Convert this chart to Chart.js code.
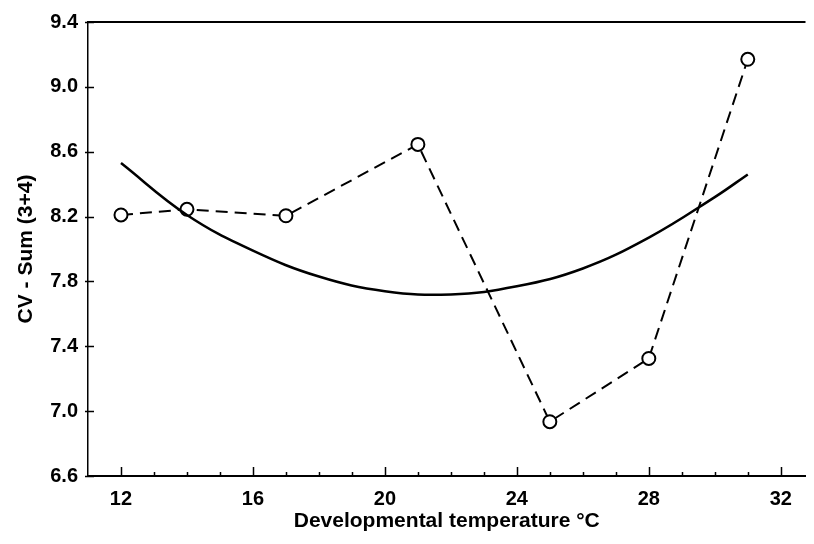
<!DOCTYPE html>
<html>
<head>
<meta charset="utf-8">
<script src="https://cdn.jsdelivr.net/npm/chart.js@4"></script>
<style>
  html, body { margin: 0; padding: 0; background: #fff; }
  #wrap { width: 814px; height: 544px; }
</style>
</head>
<body>
<div id="wrap"><canvas id="cvChart" width="814" height="544"></canvas></div>
<script>
// measured points (dashed line with open circles)
const tempX = [12, 14, 17, 21, 25, 28, 31];
const cvSum = [8.21, 8.245, 8.205, 8.645, 6.935, 7.325, 9.17];

// fitted curve
const fitX = [12, 14, 16, 18, 20, 22, 24, 26, 28, 30, 31];
const fitY = [8.53, 8.21, 7.99, 7.83, 7.74, 7.72, 7.77, 7.88, 8.07, 8.32, 8.46];

// axis ticks
const xTicks = [12, 16, 20, 24, 28, 32];
const xMinor = [12, 13, 14, 15, 16, 17, 18, 19, 20, 21, 22, 23, 24, 25, 26, 27, 28, 29, 30, 31, 32];
const yTicks = [6.6, 7.0, 7.4, 7.8, 8.2, 8.6, 9.0, 9.4];

const FONT = "'Liberation Sans', Arial, Helvetica, sans-serif";

// inward tick marks and the top frame line
const frameTicks = {
    id: "frameTicks",
    afterDraw(chart) {
        const ctx = chart.ctx;
        const area = chart.chartArea;
        const xs = chart.scales.x;
        const ys = chart.scales.y;
        ctx.save();
        ctx.strokeStyle = "#000";
        ctx.lineWidth = 2;
        ctx.beginPath();
        ctx.moveTo(area.left, area.top);
        ctx.lineTo(area.right, area.top);
        ctx.stroke();

        ctx.lineWidth = 1.5;
        ctx.beginPath();
        xMinor.forEach((v) => {
            const px = Math.round(xs.getPixelForValue(v)) + 0.5;
            const len = xTicks.includes(v) ? 9 : 4;
            ctx.moveTo(px, area.bottom);
            ctx.lineTo(px, area.bottom - len);
        });
        yTicks.forEach((v) => {
            const py = Math.round(ys.getPixelForValue(v)) + 0.5;
            ctx.moveTo(area.left - 3, py);
            ctx.lineTo(area.left + 6, py);
        });
        ctx.stroke();
        ctx.restore();
    },
};

const ctx = document.getElementById("cvChart").getContext("2d");

new Chart(ctx, {
    type: "scatter",
    data: {
        datasets: [
            {
                label: "Fit",
                data: fitX.map((x, i) => ({ x: x, y: fitY[i] })),
                showLine: true,
                borderColor: "#000",
                borderWidth: 2.5,
                pointRadius: 0,
                tension: 0.4,
                order: 0,
            },
            {
                label: "CV - Sum (3+4)",
                data: tempX.map((x, i) => ({ x: x, y: cvSum[i] })),
                showLine: true,
                borderColor: "#000",
                borderWidth: 2,
                borderDash: [12, 7],
                pointRadius: 6.5,
                pointBackgroundColor: "#fff",
                pointBorderColor: "#000",
                pointBorderWidth: 2,
                tension: 0,
                order: 1,
            },
        ],
    },
    options: {
        responsive: false,
        animation: false,
        devicePixelRatio: 1,
        layout: { padding: { top: 19, right: 0, left: 0, bottom: 0 } },
        plugins: {
            legend: { display: false },
            tooltip: { enabled: false },
        },
        scales: {
            x: {
                type: "linear",
                min: 11,
                max: 32.75,
                afterBuildTicks: (scale) => {
                    scale.ticks = xTicks.map((v) => ({ value: v }));
                },
                afterFit: (scale) => {
                    scale.height = 68;
                },
                grid: { display: false, drawTicks: false },
                border: { display: true, color: "#000", width: 2 },
                ticks: {
                    color: "#000",
                    padding: 11,
                    maxRotation: 0,
                    font: { family: FONT, size: 20, weight: "bold" },
                },
                title: {
                    display: true,
                    text: "Developmental temperature °C",
                    color: "#000",
                    padding: { top: 0, bottom: 10 },
                    font: { family: FONT, size: 21, weight: "bold" },
                },
            },
            y: {
                type: "linear",
                min: 6.6,
                max: 9.4,
                afterBuildTicks: (scale) => {
                    scale.ticks = yTicks.map((v) => ({ value: v }));
                },
                afterFit: (scale) => {
                    scale.width = 88;
                },
                grid: { display: false, drawTicks: false },
                border: { display: true, color: "#000", width: 1.5 },
                ticks: {
                    color: "#000",
                    padding: 10,
                    callback: (v) => Number(v).toFixed(1),
                    font: { family: FONT, size: 20, weight: "bold" },
                },
                title: {
                    display: true,
                    text: "CV - Sum (3+4)",
                    color: "#000",
                    padding: { top: 14, bottom: 0 },
                    font: { family: FONT, size: 21, weight: "bold" },
                },
            },
        },
    },
    plugins: [frameTicks],
});
</script>
</body>
</html>
